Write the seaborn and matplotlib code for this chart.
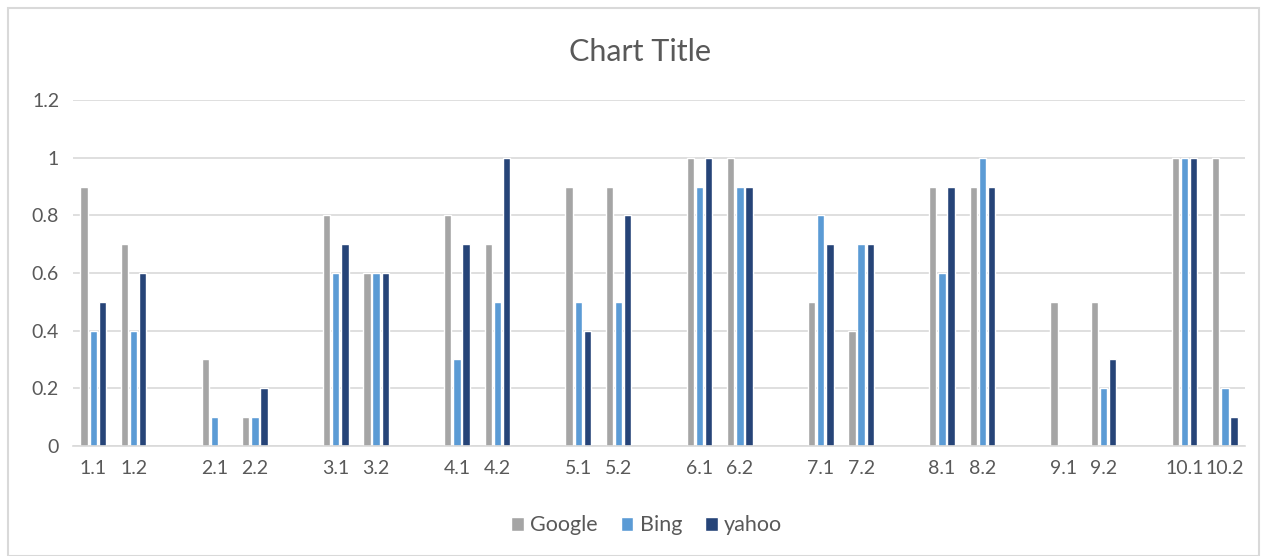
import pandas as pd
import numpy as np
import matplotlib.pyplot as plt
import seaborn as sns
from matplotlib.patches import Rectangle

# -----------------------------
# Data
# -----------------------------
categories = ['1.1', '1.2', '2.1', '2.2', '3.1', '3.2', '4.1', '4.2', '5.1', '5.2',
              '6.1', '6.2', '7.1', '7.2', '8.1', '8.2', '9.1', '9.2', '10.1', '10.2']
google = [0.9, 0.7, 0.3, 0.1, 0.8, 0.6, 0.8, 0.7, 0.9, 0.9,
          1.0, 1.0, 0.5, 0.4, 0.9, 0.9, 0.5, 0.5, 1.0, 1.0]
bing = [0.4, 0.4, 0.1, 0.1, 0.6, 0.6, 0.3, 0.5, 0.5, 0.5,
        0.9, 0.9, 0.8, 0.7, 0.6, 1.0, 0.0, 0.2, 1.0, 0.2]
yahoo = [0.5, 0.6, 0.0, 0.2, 0.7, 0.6, 0.7, 1.0, 0.4, 0.8,
         1.0, 0.9, 0.7, 0.7, 0.9, 0.9, 0.0, 0.3, 1.0, 0.1]
series = ['Google', 'Bing', 'yahoo']
colors = ['#A5A5A5', '#5B9BD5', '#264478']

df = pd.DataFrame({'cat': categories, 'Google': google, 'Bing': bing, 'yahoo': yahoo})
long = df.melt(id_vars='cat', var_name='engine', value_name='value')

# empty slot between each pair of groups
order = []
for i in range(0, len(categories), 2):
    order += categories[i:i + 2]
    if i + 2 < len(categories):
        order.append(f'_gap{i}')

# -----------------------------
# Plot
# -----------------------------
sns.set_style('white')
plt.rcParams['font.family'] = ['Lato', 'DejaVu Sans']

fig = plt.figure(figsize=(12.63, 5.56), dpi=100)
ax = fig.add_axes([0.0578, 0.198, 0.928, 0.622])

sns.barplot(data=long, x='cat', y='value', hue='engine', order=order,
            hue_order=series, palette=colors, width=0.68, gap=0.2,
            saturation=1, ax=ax, legend=True)

ax.set_ylim(0, 1.2)
ax.set_yticks(np.arange(0, 1.21, 0.2))
ax.set_yticklabels(['0', '0.2', '0.4', '0.6', '0.8', '1', '1.2'])
ax.set_xlim(-0.5, len(order) - 0.5)
ticks = [i for i, c in enumerate(order) if not c.startswith('_gap')]
ax.set_xticks(ticks)
ax.set_xticklabels([order[i] for i in ticks])
ax.tick_params(axis='both', labelsize=14, colors='#595959', length=0, pad=10)
ax.set_xlabel('')
ax.set_ylabel('')
ax.yaxis.grid(True, color='#D9D9D9', linewidth=1.2)
ax.set_axisbelow(True)
for s in ['top', 'right', 'left']:
    ax.spines[s].set_visible(False)
ax.spines['bottom'].set_color('#D9D9D9')
ax.spines['bottom'].set_linewidth(1.2)

fig.text(0.507, 0.907, 'Chart Title', ha='center', va='center', fontsize=22, color='#595959')

handles, labels = ax.get_legend_handles_labels()
ax.legend_.remove()
fig.legend(handles, labels, loc='center', bbox_to_anchor=(0.512, 0.055), ncol=3, frameon=False,
           fontsize=15.5, labelcolor='#595959', handlelength=0.6, handleheight=0.6,
           handletextpad=0.3, columnspacing=1.05)

fig.patches.append(Rectangle((0.0065, 0.0), 0.99, 0.985, transform=fig.transFigure,
                             fill=False, edgecolor='#D9D9D9', linewidth=1.5))

fig.savefig('out.png', dpi=100)
